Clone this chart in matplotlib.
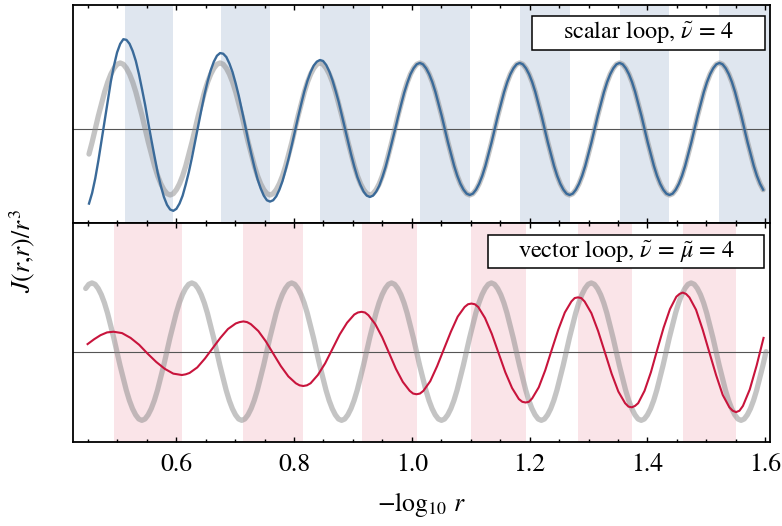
import numpy as np
import matplotlib
matplotlib.use('Agg')
from matplotlib import pyplot as plt
from matplotlib.patches import Rectangle
from matplotlib.ticker import MultipleLocator

##########################################################################
#
#   Data
#
##########################################################################

# sampling grid of the top and bottom panel curves
x_top = np.linspace(0.4521, 1.5963, 217)
x_bot = np.linspace(0.4465, 1.6012, 219)

grey_top = [-0.38, -0.20, 0, 0.20, 0.38, 0.56, 0.71, 0.83, 0.92, 0.98,
            1, .98, .92, .83, .71, .56, .38, .20, 0, -.20, -.38, -.56, -.71, -.83, -.92, -.98,
            -1, -.98, -.92, -.83, -.71, -.56, -.38, -.20, 0, .20, .38, .56, .71, .83, .92, .98,
            1, .98, .92, .83, .71, .56, .38, .20, 0, -.20, -.38, -.56, -.71, -.83, -.92, -.98,
            -1, -.98, -.92, -.83, -.71, -.56, -.38, -.20, 0, .20, .38, .56, .71, .83, .92, .98,
            1, .98, .92, .83, .71, .56, .38, .20, 0, -.20, -.38, -.56, -.71, -.83, -.92, -.98,
            -1, -.98, -.92, -.83, -.71, -.56, -.38, -.20, 0, .20, .38, .56, .71, .83, .92, .98,
            1, .98, .92, .83, .71, .56, .38, .20, 0, -.20, -.38, -.56, -.71, -.83, -.92, -.98,
            -1, -.98, -.92, -.83, -.71, -.56, -.38, -.20, 0, .20, .38, .56, .71, .83, .92, .98,
            1, .98, .92, .83, .71, .56, .38, .20, 0, -.20, -.38, -.56, -.71, -.83, -.92, -.98,
            -1, -.98, -.92, -.83, -.71, -.56, -.38, -.20, 0, .20, .38, .56, .71, .83, .92, .98,
            1, .98, .92, .83, .71, .56, .38, .20, 0, -.20, -.38, -.56, -.71, -.83, -.92, -.98,
            -1, -.98, -.92, -.83, -.71, -.56, -.38, -.20, 0, .20, .38, .56, .71, .83, .92, .98,
            1, .98, .92, .83, .71, .56, .38, .20, 0, -.20, -.38, -.56, -.71, -.83, -.92]

scalar_loop = [-1.13, -0.97, -0.75, -0.48, -0.18, 0.13, 0.43, 0.72, 0.96, 1.16,
               1.29, 1.36, 1.35, 1.29, 1.18, 1.03, 0.83, 0.60, 0.36, 0.09, -0.17, -0.42, -0.66, -0.86, -1.03, -1.15,
               -1.22, -1.24, -1.21, -1.13, -1.01, -0.84, -0.65, -0.43, -0.19, 0.05, 0.29, 0.52, 0.72, 0.89, 1.02, 1.11,
               1.15, 1.14, 1.09, 0.99, 0.86, 0.69, 0.50, 0.28, 0.06, -0.17, -0.38, -0.58, -0.76, -0.90, -1.01, -1.08,
               -1.10, -1.08, -1.02, -0.92, -0.79, -0.62, -0.44, -0.24, -0.03, 0.18, 0.38, 0.57, 0.73, 0.86, 0.96, 1.02,
               1.045, 1.03, 0.97, 0.87, 0.74, 0.58, 0.41, 0.21, 0.01, -0.19, -0.39, -0.57, -0.73, -0.85, -0.95, -1.01,
               -1.03, -1.01, -0.95, -0.86, -0.73, -0.58, -0.40, -0.21, -0.02, 0.18, 0.37, 0.55, 0.70, 0.83, 0.92, 0.98,
               1.00, .98, .92, .83, .71, .56, .38, .20, 0, -.20, -.38, -.56, -.71, -.83, -.92, -.98,
               -1, -.98, -.92, -.83, -.71, -.56, -.38, -.20, 0, .20, .38, .56, .71, .83, .92, .98,
               1, .98, .92, .83, .71, .56, .38, .20, 0, -.20, -.38, -.56, -.71, -.83, -.92, -.98,
               -1, -.98, -.92, -.83, -.71, -.56, -.38, -.20, 0, .20, .38, .56, .71, .83, .92, .98,
               1, .98, .92, .83, .71, .56, .38, .20, 0, -.20, -.38, -.56, -.71, -.83, -.92, -.98,
               -1, -.98, -.92, -.83, -.71, -.56, -.38, -.20, 0, .20, .38, .56, .71, .83, .92, .98,
               1, .98, .92, .83, .71, .56, .38, .20, 0, -.20, -.38, -.56, -.71, -.83, -.92]

grey_bot = [0.92, 0.98,
            1, .98, .92, .83, .71, .56, .38, .20, 0, -.20, -.38, -.56, -.71, -.83, -.92, -.98,
            -1, -.98, -.92, -.83, -.71, -.56, -.38, -.20, 0, .20, .38, .56, .71, .83, .92, .98,
            1, .98, .92, .83, .71, .56, .38, .20, 0, -.20, -.38, -.56, -.71, -.83, -.92, -.98,
            -1, -.98, -.92, -.83, -.71, -.56, -.38, -.20, 0, .20, .38, .56, .71, .83, .92, .98,
            1, .98, .92, .83, .71, .56, .38, .20, 0, -.20, -.38, -.56, -.71, -.83, -.92, -.98,
            -1, -.98, -.92, -.83, -.71, -.56, -.38, -.20, 0, .20, .38, .56, .71, .83, .92, .98,
            1, .98, .92, .83, .71, .56, .38, .20, 0, -.20, -.38, -.56, -.71, -.83, -.92, -.98,
            -1, -.98, -.92, -.83, -.71, -.56, -.38, -.20, 0, .20, .38, .56, .71, .83, .92, .98,
            1, .98, .92, .83, .71, .56, .38, .20, 0, -.20, -.38, -.56, -.71, -.83, -.92, -.98,
            -1, -.98, -.92, -.83, -.71, -.56, -.38, -.20, 0, .20, .38, .56, .71, .83, .92, .98,
            1, .98, .92, .83, .71, .56, .38, .20, 0, -.20, -.38, -.56, -.71, -.83, -.92, -.98,
            -1, -.98, -.92, -.83, -.71, -.56, -.38, -.20, 0, .20, .38, .56, .71, .83, .92, .98,
            1, .98, .92, .83, .71, .56, .38, .20, 0, -.20, -.38, -.56, -.71, -.83, -.92, -.98,
            -1, -.98, -.92, -.83, -.71, -.56, -.38, -.20, 0]

vector_x = [0.4497, 0.4607, 0.4717, 0.4827, 0.4937,
            0.5010, 0.5082, 0.5227, 0.5372, 0.5517, 0.5662, 0.5807, 0.5952, 0.6025, 0.6097,
            0.6162, 0.6228, 0.6358, 0.6489, 0.6619, 0.6750, 0.6880, 0.7011, 0.7076, 0.7141,
            0.7205, 0.7268, 0.7395, 0.7522, 0.7649, 0.7777, 0.7904, 0.8031, 0.8094, 0.8158,
            0.8220, 0.8282, 0.8405, 0.8529, 0.8653, 0.8776, 0.8900, 0.9023, 0.9085, 0.9147,
            0.9205, 0.9264, 0.9380, 0.9497, 0.9614, 0.9730, 0.9847, 0.9964, 1.0022, 1.0080,
            1.0138, 1.0197, 1.0313, 1.0430, 1.0546, 1.0663, 1.0779, 1.0896, 1.0954, 1.1012,
            1.1070, 1.1127, 1.1242, 1.1357, 1.1472, 1.1587, 1.1702, 1.1817, 1.1875, 1.1932,
            1.1987, 1.2043, 1.2154, 1.2265, 1.2376, 1.2486, 1.2597, 1.2708, 1.2764, 1.2819,
            1.2876, 1.2933, 1.3048, 1.3162, 1.3277, 1.3391, 1.3505, 1.3620, 1.3677, 1.3734,
            1.3788, 1.3842, 1.3950, 1.4058, 1.4166, 1.4274, 1.4382, 1.4490, 1.4544, 1.4598,
            1.4655, 1.4711, 1.4824, 1.4937, 1.5050, 1.5164, 1.5277, 1.5390, 1.5446, 1.5503,
            1.5561, 1.5620, 1.5736, 1.5853, 1.5970]

vector_loop = [0.11, 0.18, 0.24, 0.28, 0.29,
               0.28, 0.27, 0.20, 0.10, -0.03, -0.15, -0.25, -0.32, -0.33, -0.34,
               -0.33, -0.31, -0.23, -0.10, 0.05, 0.20, 0.33, 0.41, 0.43, 0.44,
               0.43, 0.40, 0.30, 0.15, -0.03, -0.21, -0.36, -0.46, -0.49, -0.50,
               -0.49, -0.46, -0.34, -0.17, 0.04, 0.25, 0.42, 0.54, 0.57, 0.58,
               0.57, 0.53, 0.40, 0.21, -0.02, -0.25, -0.44, -0.57, -0.61, -0.62,
               -0.61, -0.57, -0.43, -0.21, 0.04, 0.29, 0.51, 0.65, 0.69, 0.70,
               0.69, 0.65, 0.49, 0.26, -0.02, -0.30, -0.53, -0.69, -0.73, -0.74,
               -0.73, -0.68, -0.52, -0.27, 0.03, 0.32, 0.57, 0.73, 0.78, 0.79,
               0.78, 0.73, 0.56, 0.30, -0.01, -0.32, -0.58, -0.75, -0.80, -0.81,
               -0.79, -0.75, -0.57, -0.30, 0.03, 0.35, 0.62, 0.80, 0.84, 0.86,
               0.84, 0.79, 0.61, 0.32, -0.01, -0.34, -0.63, -0.81, -0.86, -0.88,
               -0.86, -0.79, -0.55, -0.20, 0.20]

# shaded intervals (from a maximum to the next minimum of each loop curve)
scalar_bands = [(0.5124, 0.5944), (0.6763, 0.7593), (0.8440, 0.9288),
                (1.0136, 1.0983), (1.1830, 1.2678), (1.3525, 1.4373),
                (1.5220, 1.6200)]
vector_bands = [(0.4937, 0.6097), (0.7141, 0.8158), (0.9147, 1.0080),
                (1.1012, 1.1932), (1.2819, 1.3734), (1.4598, 1.5503)]

labels = [r'scalar loop, $\tilde{\nu}$ = 4',
          r'vector loop, $\tilde{\nu}$ = $\tilde{\mu}$ = 4']

##########################################################################
#
#   Plot
#
##########################################################################

plt.rcParams['font.family'] = ['STIXGeneral', 'DejaVu Serif']
plt.rcParams['mathtext.fontset'] = 'stix'

GREY = '#8a8a8a'
BLUE = '#3a6a99'
RED = '#c8143c'
BLUE_BAND = '#dfe6ef'
PINK_BAND = '#fae4e8'

fig = plt.figure(figsize=(7.82, 5.26), dpi=100)
ax1 = fig.add_axes([0.0934, 0.5761, 0.8913, 0.4145])
ax2 = fig.add_axes([0.0934, 0.1597, 0.8913, 0.4164], sharex=ax1)


def styleAxis(ax):
    for sp in ax.spines.values():
        sp.set_linewidth(1.3)
    ax.set_yticks([])
    ax.xaxis.set_major_locator(MultipleLocator(0.2))
    ax.xaxis.set_minor_locator(MultipleLocator(0.05))
    ax.tick_params(axis='x', which='both', direction='in', top=True,
                   bottom=True, width=1.0, colors='black')
    ax.tick_params(axis='x', which='major', length=3.8, pad=8, labelsize=18.5)
    ax.tick_params(axis='x', which='minor', length=2.3)
    ax.axhline(0, color='#555555', lw=0.8, zorder=2)


def drawBox(ax, rect, xy, text):
    ax.add_patch(Rectangle(rect[:2], rect[2], rect[3], transform=ax.transAxes,
                           fc='white', ec='black', lw=1.1, zorder=5))
    ax.text(xy[0], xy[1], text, transform=ax.transAxes, ha='center',
            va='center', fontsize=17.5, zorder=6)


# top panel: scalar loop
for a, b in scalar_bands:
    ax1.axvspan(a, b, color=BLUE_BAND, lw=0, zorder=0)
ax1.plot(x_top, grey_top, color=GREY, alpha=0.5, lw=3.8,
         solid_capstyle='round', zorder=3)
ax1.plot(x_top, scalar_loop, color=BLUE, lw=1.7, zorder=4)
styleAxis(ax1)
ax1.tick_params(axis='x', which='both', labelbottom=False)
ax1.set_ylim(-1.424, 1.879)
drawBox(ax1, (0.658, 0.7936, 0.3347, 0.156), (0.8254, 0.8716), labels[0])

# bottom panel: vector loop
for a, b in vector_bands:
    ax2.axvspan(a, b, color=PINK_BAND, lw=0, zorder=0)
ax2.plot(x_bot, grey_bot, color=GREY, alpha=0.5, lw=3.8,
         solid_capstyle='round', zorder=3)
ax2.plot(vector_x, vector_loop, color=RED, lw=1.5, zorder=4)
styleAxis(ax2)
ax2.set_ylim(-1.315, 1.873)
drawBox(ax2, (0.5958, 0.7959, 0.396, 0.1493), (0.7938, 0.8705), labels[1])

ax2.set_xlim(0.425, 1.608)
ax2.set_xlabel(r'$-\log_{10}\, r$', fontsize=18.5, labelpad=9)
fig.text(0.028, 0.523, r'$J(r{,}r)/r^3$', rotation=90, ha='center',
         va='center', fontsize=18.5)

fig.savefig('out.png', dpi=100)
